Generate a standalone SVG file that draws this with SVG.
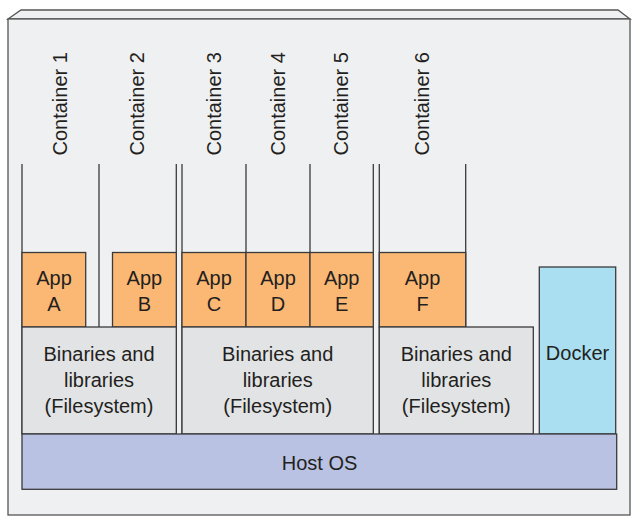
<svg xmlns="http://www.w3.org/2000/svg" width="639" height="526" viewBox="0 0 639 526">
<style>
.ln{stroke:#3a3a3c;stroke-width:1.3;fill:none}
.app{fill:#fbb874;stroke:#3a3a3c;stroke-width:1.3}
.bin{fill:#e2e3e5;stroke:#3a3a3c;stroke-width:1.3}
.dock{fill:#a9dff0;stroke:#3a3a3c;stroke-width:1.3}
.host{fill:#b9c2e2;stroke:#3a3a3c;stroke-width:1.3}
text{font-family:"Liberation Sans",Arial,sans-serif;font-size:20px;fill:#231f20}
.c{text-anchor:middle}
</style>
<g id="frame">
<polygon points="8,19 21,10 618,10 630,19" fill="#eff0f2" stroke="#555" stroke-width="1.3"/>
<rect x="8" y="19" width="622" height="496" fill="#eff0f2" stroke="#555" stroke-width="1.3"/>
</g>
<g id="labels">
<text transform="translate(66.5,155.5) rotate(-90)">Container 1</text>
<text transform="translate(144,155.5) rotate(-90)">Container 2</text>
<text transform="translate(220.5,155.5) rotate(-90)">Container 3</text>
<text transform="translate(285,155.5) rotate(-90)">Container 4</text>
<text transform="translate(348.3,155.5) rotate(-90)">Container 5</text>
<text transform="translate(429,155.5) rotate(-90)">Container 6</text>
</g>
<g id="connectors">
<line class="ln" x1="22" y1="164" x2="22" y2="434"/>
<line class="ln" x1="99" y1="164" x2="99" y2="327"/>
<line class="ln" x1="176.3" y1="164" x2="176.3" y2="434"/>
<line class="ln" x1="182" y1="164" x2="182" y2="434"/>
<line class="ln" x1="246" y1="164" x2="246" y2="327"/>
<line class="ln" x1="310" y1="164" x2="310" y2="327"/>
<line class="ln" x1="373.3" y1="164" x2="373.3" y2="434"/>
<line class="ln" x1="379.3" y1="164" x2="379.3" y2="434"/>
<line class="ln" x1="465.7" y1="164" x2="465.7" y2="327"/>
</g>
<g id="appA"><rect class="app" x="22" y="252.5" width="63.7" height="74.5"/><text class="c" x="54" y="284.5">App</text><text class="c" x="54" y="311">A</text></g>
<g id="appB"><rect class="app" x="112.5" y="252.5" width="63.8" height="74.5"/><text class="c" x="144.4" y="284.5">App</text><text class="c" x="144.4" y="311">B</text></g>
<g id="appC"><rect class="app" x="182" y="252.5" width="64" height="74.5"/><text class="c" x="214" y="284.5">App</text><text class="c" x="214" y="311">C</text></g>
<g id="appD"><rect class="app" x="246" y="252.5" width="64" height="74.5"/><text class="c" x="278" y="284.5">App</text><text class="c" x="278" y="311">D</text></g>
<g id="appE"><rect class="app" x="310" y="252.5" width="63.3" height="74.5"/><text class="c" x="341.7" y="284.5">App</text><text class="c" x="341.7" y="311">E</text></g>
<g id="appF"><rect class="app" x="379.3" y="252.5" width="86.4" height="74.5"/><text class="c" x="422.5" y="284.5">App</text><text class="c" x="422.5" y="311">F</text></g>
<g id="bin1"><rect class="bin" x="22" y="327" width="154.3" height="107"/><text class="c" x="99" y="361">Binaries and</text><text class="c" x="99" y="387">libraries</text><text class="c" x="99" y="413">(Filesystem)</text></g>
<g id="bin2"><rect class="bin" x="182" y="327" width="191.3" height="107"/><text class="c" x="277.7" y="361">Binaries and</text><text class="c" x="277.7" y="387">libraries</text><text class="c" x="277.7" y="413">(Filesystem)</text></g>
<g id="bin3"><rect class="bin" x="379.3" y="327" width="154" height="107"/><text class="c" x="456.3" y="361">Binaries and</text><text class="c" x="456.3" y="387">libraries</text><text class="c" x="456.3" y="413">(Filesystem)</text></g>
<g id="docker"><rect class="dock" x="539.3" y="267" width="76.4" height="167"/><text class="c" x="577.5" y="360">Docker</text></g>
<g id="host"><rect class="host" x="22" y="434" width="594.7" height="55.3"/><text class="c" x="319.5" y="470">Host OS</text></g>
</svg>
